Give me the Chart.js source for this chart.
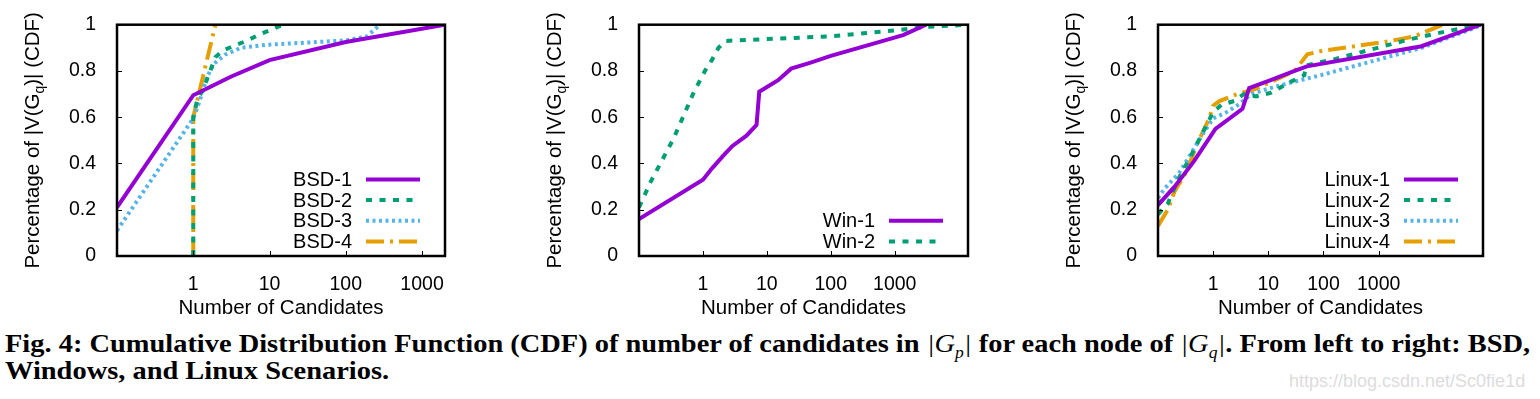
<!DOCTYPE html>
<html>
<head>
<meta charset="utf-8">
<title>Fig. 4 - CDF of number of candidates</title>
<script src="https://cdn.jsdelivr.net/npm/chart.js@4.4.1/dist/chart.umd.min.js"></script>
<style>
    html, body { margin: 0; padding: 0; background: #fff; }
    body { width: 1540px; height: 399px; position: relative; overflow: hidden; }
    .panel { position: absolute; top: 0; }
    #caption {
        position: absolute; left: 5px; top: 330px;
        font-family: "Liberation Serif", "DejaVu Serif", serif;
        font-weight: bold; font-size: 26px; line-height: 27px;
        color: #000; white-space: nowrap; transform-origin: 0 0;
    }
    #caption .m { font-weight: normal; font-style: italic; }
    #caption sub { font-size: 16px; line-height: 0; }
    #watermark {
        position: absolute; left: 1289px; top: 371px;
        font-family: "Liberation Sans", Arial, sans-serif;
        font-size: 18px; color: #dcdcdc;
    }
</style>
</head>
<body>
<canvas id="bsdChart" class="panel" width="460" height="320" style="left:0px"></canvas>
<canvas id="winChart" class="panel" width="461" height="320" style="left:522px"></canvas>
<canvas id="linuxChart" class="panel" width="457" height="320" style="left:1041px"></canvas>

<div id="caption">
    <div id="capLine1">Fig. 4: Cumulative Distribution Function (CDF) of number of candidates in <span class="m">|G<sub>p</sub>|</span> for each node of <span class="m">|G<sub>q</sub>|</span>. From left to right: BSD,</div>
    <div>Windows, and Linux Scenarios.</div>
</div>
<div id="watermark">https://blog.csdn.net/Sc0fie1d</div>

<script>
// Values (x = number of candidates, y = CDF)

const xTickValues = [1, 10, 100, 1000];
const yTickStep = 0.2;

const xTitle = 'Number of Candidates';
const yTitleHead = 'Percentage of |V(G';
const yTitleSub = 'q';
const yTitleTail = ')| (CDF)';

// BSD
const bsdLabels = ['BSD-1', 'BSD-2', 'BSD-3', 'BSD-4'];
const bsd1X = [0.1, 1, 3.1, 10, 100, 2000];
const bsd1Y = [0.21, 0.695, 0.775, 0.847, 0.925, 1.0];
const bsd2X = [1, 1, 1.1, 1.5, 1.95, 2.5, 3.5, 5, 7.6, 10.8, 15];
const bsd2Y = [0, 0.6, 0.66, 0.76, 0.86, 0.89, 0.91, 0.93, 0.96, 0.98, 1.0];
const bsd3X = [0.1, 1, 1.2, 1.5, 1.85, 2.6, 4.2, 9, 100, 190, 280];
const bsd3Y = [0.11, 0.595, 0.665, 0.77, 0.83, 0.87, 0.9, 0.913, 0.932, 0.95, 1.0];
const bsd4X = [1, 1, 1.95];
const bsd4Y = [0, 0.6, 1.0];

// Windows
const winLabels = ['Win-1', 'Win-2'];
const win1X = [0.1, 1, 1.4, 2.1, 2.9, 4.8, 6.9, 7.6, 15, 24, 47, 100, 1350, 3100];
const win1Y = [0.16, 0.33, 0.38, 0.435, 0.476, 0.52, 0.567, 0.71, 0.76, 0.81, 0.835, 0.865, 0.955, 1.0];
const win2X = [0.1, 0.15, 0.35, 0.72, 1.1, 1.4, 1.75, 2.3, 100, 1000, 3000, 14000];
const win2Y = [0.21, 0.317, 0.51, 0.708, 0.805, 0.85, 0.9, 0.93, 0.95, 0.975, 0.99, 1.0];

// Linux
const linuxLabels = ['Linux-1', 'Linux-2', 'Linux-3', 'Linux-4'];
const linux1X = [0.1, 0.2, 0.45, 1.1, 3.4, 4.5, 11, 30, 50, 6000, 70000];
const linux1Y = [0.22, 0.30, 0.41, 0.55, 0.636, 0.726, 0.76, 0.80, 0.82, 0.907, 1.0];
const linux2X = [0.1, 0.15, 0.23, 0.37, 0.6, 1, 1.4, 2.4, 3.6, 6, 11, 26, 45, 48, 160, 3400, 16000, 70000];
const linux2Y = [0.18, 0.226, 0.33, 0.42, 0.518, 0.622, 0.653, 0.67, 0.70, 0.69, 0.705, 0.754, 0.782, 0.824, 0.851, 0.935, 0.97, 1.0];
const linux3X = [0.1, 0.13, 0.24, 0.39, 0.7, 1.0, 1.7, 3.0, 4.9, 11, 30, 90, 6000, 78000];
const linux3Y = [0.25, 0.29, 0.358, 0.44, 0.54, 0.595, 0.62, 0.657, 0.70, 0.726, 0.754, 0.782, 0.90, 1.0];
const linux4X = [0.1, 0.15, 0.2, 0.32, 0.51, 0.85, 1, 1.3, 2.75, 5.6, 30, 34, 51, 91, 1500, 4500, 14500];
const linux4Y = [0.13, 0.2, 0.28, 0.36, 0.483, 0.595, 0.65, 0.67, 0.70, 0.72, 0.80, 0.817, 0.872, 0.886, 0.928, 0.95, 1.0];

/**
 * gnuplot-like line styles
 */
const lineStyles = [
    { borderColor: '#9400D3', borderWidth: 4, borderDash: [] },
    { borderColor: '#009E73', borderWidth: 4, borderDash: [6, 7.5] },
    { borderColor: '#56B4E9', borderWidth: 4, borderDash: [3, 3.5] },
    { borderColor: '#E69F00', borderWidth: 4, borderDash: [18, 6, 3, 6] }
];

const FONT = '"Liberation Sans", Arial, Helvetica, sans-serif';

function toPoints(xs, ys) {
    return xs.map((x, i) => ({ x: x, y: ys[i] }));
}

/**
 * Border box + inward tick marks, drawn over the lines
 */
const framePlugin = {
    id: 'frame',
    afterDatasetsDraw(chart) {
        const { ctx, chartArea: a, scales } = chart;
        ctx.save();
        ctx.strokeStyle = '#000';
        ctx.lineWidth = 1;
        ctx.beginPath();
        scales.x.ticks.forEach(t => {
            const px = Math.round(scales.x.getPixelForValue(t.value)) + 0.5;
            ctx.moveTo(px, a.bottom);
            ctx.lineTo(px, a.bottom - 5);
        });
        scales.y.ticks.forEach(t => {
            const py = Math.round(scales.y.getPixelForValue(t.value)) + 0.5;
            ctx.moveTo(a.left, py);
            ctx.lineTo(a.left + 5, py);
        });
        ctx.stroke();
        ctx.lineWidth = 2.5;
        ctx.strokeRect(a.left, a.top, a.right - a.left, a.bottom - a.top);
        ctx.restore();
    }
};

/**
 * Legend inside the plot, bottom right, text left of the sample line
 */
const insideLegendPlugin = {
    id: 'insideLegend',
    afterDatasetsDraw(chart) {
        const { ctx, chartArea: a } = chart;
        const sets = chart.data.datasets;
        const n = sets.length;
        ctx.save();
        ctx.font = '20px ' + FONT;
        ctx.textAlign = 'right';
        ctx.textBaseline = 'middle';
        ctx.fillStyle = '#000';
        sets.forEach((ds, i) => {
            const y = a.bottom - 14.5 - (n - 1 - i) * 20.7;
            const x2 = a.right - 25;
            const x1 = x2 - 54;
            ctx.fillText(ds.label, x1 - 14, y + 1);
            ctx.beginPath();
            ctx.setLineDash(ds.borderDash || []);
            ctx.lineWidth = ds.borderWidth;
            ctx.strokeStyle = ds.borderColor;
            ctx.moveTo(x1, y);
            ctx.lineTo(x2, y);
            ctx.stroke();
        });
        ctx.restore();
    }
};

/**
 * Rotated y title with the subscript q
 */
const yTitlePlugin = {
    id: 'yTitle',
    afterDraw(chart) {
        const { ctx, chartArea: a } = chart;
        const mainFont = '20.5px ' + FONT;
        const subFont = '14px ' + FONT;
        ctx.save();
        ctx.fillStyle = '#000';
        ctx.textBaseline = 'alphabetic';
        ctx.textAlign = 'left';
        ctx.font = mainFont;
        const w1 = ctx.measureText(yTitleHead).width;
        const w3 = ctx.measureText(yTitleTail).width;
        ctx.font = subFont;
        const w2 = ctx.measureText(yTitleSub).width;
        const total = w1 + w2 + w3;
        ctx.translate(a.left - 78, (a.top + a.bottom) / 2);
        ctx.rotate(-Math.PI / 2);
        let x = -total / 2;
        ctx.font = mainFont;
        ctx.fillText(yTitleHead, x, 0);
        x += w1;
        ctx.font = subFont;
        ctx.fillText(yTitleSub, x, 5);
        x += w2;
        ctx.font = mainFont;
        ctx.fillText(yTitleTail, x, 0);
        ctx.restore();
    }
};

/**
 * Build one CDF panel
 */
function initCdfChart(canvasId, labels, seriesX, seriesY, xMax) {
    const ctx = document.getElementById(canvasId);
    if (!ctx) return null;

    const datasets = labels.map((label, i) => ({
        label: label,
        data: toPoints(seriesX[i], seriesY[i]),
        borderColor: lineStyles[i].borderColor,
        borderWidth: lineStyles[i].borderWidth,
        borderDash: lineStyles[i].borderDash,
        pointRadius: 0,
        tension: 0,
        fill: false
    }));

    const options = {
        responsive: false,
        animation: false,
        layout: { padding: { left: 0, right: 15, top: 16, bottom: 0 } },
        plugins: {
            legend: { display: false },
            tooltip: { enabled: false }
        },
        scales: {
            x: {
                type: 'logarithmic',
                min: 0.1,
                max: xMax,
                bounds: 'data',
                grid: { display: false },
                border: { display: false },
                afterBuildTicks: function(scale) {
                    scale.ticks = xTickValues.map(v => ({ value: v }));
                },
                afterFit: function(scale) {
                    scale.height = 64;
                },
                ticks: {
                    color: '#000',
                    padding: 9,
                    maxRotation: 0,
                    font: { family: FONT, size: 19.5 },
                    callback: function(value) {
                        return String(value);
                    }
                },
                title: {
                    display: true,
                    text: xTitle,
                    color: '#000',
                    font: { family: FONT, size: 20.5 },
                    padding: { top: 0, bottom: -1 }
                }
            },
            y: {
                type: 'linear',
                min: 0,
                max: 1,
                grid: { display: false },
                border: { display: false },
                afterFit: function(scale) {
                    scale.width = 117;
                },
                ticks: {
                    stepSize: yTickStep,
                    color: '#000',
                    padding: 13,
                    font: { family: FONT, size: 19.5 },
                    callback: function(value) {
                        return String(Number(value.toFixed(1)));
                    }
                }
            }
        }
    };

    return new Chart(ctx, {
        type: 'line',
        data: { datasets: datasets },
        options: options,
        plugins: [framePlugin, insideLegendPlugin, yTitlePlugin]
    });
}

function fitCaption() {
    const cap = document.getElementById('caption');
    const line = document.getElementById('capLine1');
    const w = line.scrollWidth;
    if (w > 0) {
        cap.style.transform = 'scaleX(' + (1525 / w) + ')';
    }
}

window.charts = {};
window.charts.bsd = initCdfChart('bsdChart', bsdLabels,
    [bsd1X, bsd2X, bsd3X, bsd4X], [bsd1Y, bsd2Y, bsd3Y, bsd4Y], 2000);
window.charts.win = initCdfChart('winChart', winLabels,
    [win1X, win2X], [win1Y, win2Y], 14000);
window.charts.linux = initCdfChart('linuxChart', linuxLabels,
    [linux1X, linux2X, linux3X, linux4X], [linux1Y, linux2Y, linux3Y, linux4Y], 78000);
fitCaption();
</script>
</body>
</html>
